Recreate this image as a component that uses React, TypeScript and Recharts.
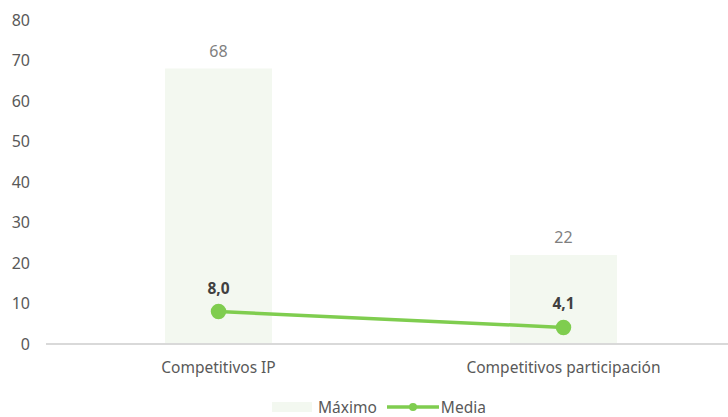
import { ComposedChart, Bar, Line, XAxis, YAxis, Legend, LabelList } from 'recharts';

const categories = ['Competitivos IP', 'Competitivos participación'];
const maximo = [68, 22];
const media = [8.0, 4.1];
const yTicks = [0, 10, 20, 30, 40, 50, 60, 70, 80];

const data = categories.map((name, i) => ({ name, maximo: maximo[i], media: media[i] }));

const FONT = '"Noto Sans", "Open Sans", sans-serif';
const GRAY = '#595959';
const GREEN = '#7fcd4f';
const BAR_FILL = '#f3f8f0';

const fmt = (v: any) => Number(v).toFixed(1).replace('.', ',');

const renderLegend = () => (
  <div style={{ display: 'flex', alignItems: 'center', fontFamily: FONT, fontSize: 15.5, color: GRAY, marginLeft: 272 }}>
    <div style={{ width: 40, height: 10, background: BAR_FILL, marginRight: 6 }} />
    <span style={{ marginRight: 10 }}>Máximo</span>
    <svg width={52} height={12} style={{ marginRight: 2 }}>
      <line x1={0} y1={6} x2={52} y2={6} stroke={GREEN} strokeWidth={3.5} />
      <circle cx={26} cy={6} r={4} fill={GREEN} />
    </svg>
    <span>Media</span>
  </div>
);

export default function App() {
  return (
    <div style={{ position: 'absolute', left: 0, top: 0, width: 728, height: 417, overflow: 'hidden', background: '#fff' }}>
      <ComposedChart
        width={740}
        height={417}
        data={data}
        margin={{ top: 20, right: 4, left: 0, bottom: 0 }}
        barCategoryGap="34.5%"
      >
        <XAxis
          dataKey="name"
          axisLine={{ stroke: '#d9d9d9', strokeWidth: 2 }}
          tickLine={false}
          tick={{ fill: GRAY, fontSize: 15.5, fontFamily: FONT }}
          tickMargin={12}
          height={40}
        />
        <YAxis
          domain={[0, 80]}
          ticks={yTicks}
          width={46}
          axisLine={false}
          tickLine={false}
          tick={{ fill: GRAY, fontSize: 16, fontFamily: FONT, textAnchor: 'end', dx: -8 }}
          interval={0}
        />
        <Legend
          verticalAlign="bottom"
          align="left"
          height={33}
          content={renderLegend}
          wrapperStyle={{ top: 396, left: 0 }}
        />
        <Bar dataKey="maximo" name="Máximo" fill={BAR_FILL} isAnimationActive={false}>
          <LabelList dataKey="maximo" position="top" offset={12} fill="#7f7f7f" fontSize={16} fontFamily={FONT} />
        </Bar>
        <Line
          dataKey="media"
          name="Media"
          stroke={GREEN}
          strokeWidth={3.5}
          dot={{ r: 6, fill: GREEN, stroke: GREEN }}
          activeDot={false}
          isAnimationActive={false}
        >
          <LabelList dataKey="media" position="top" offset={18} fill="#404040" fontSize={15.5} fontWeight="bold" fontFamily={FONT} formatter={fmt} />
        </Line>
      </ComposedChart>
    </div>
  );
}
